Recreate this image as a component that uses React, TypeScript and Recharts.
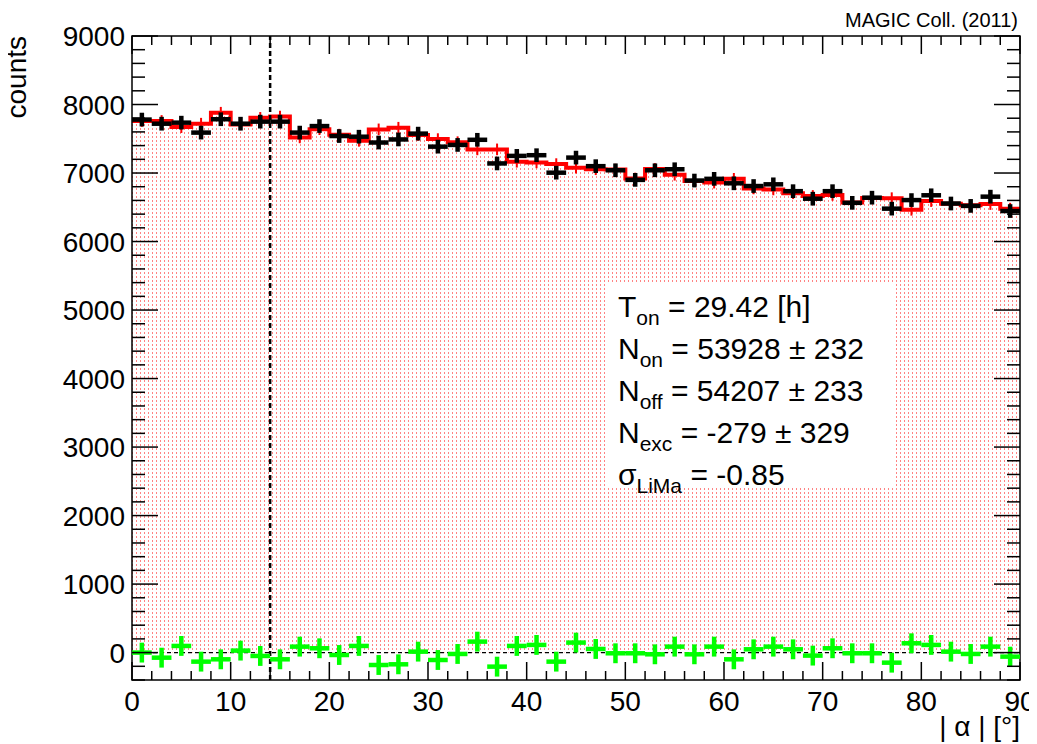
import React from 'react';
import {
  ComposedChart,
  Area,
  Scatter,
  ErrorBar,
  XAxis,
  YAxis,
  ReferenceLine,
  ReferenceArea,
} from 'recharts';

// |alpha| histogram, 45 bins of 2 deg from 0 to 90
const BIN_WIDTH = 2;
const X_MIN = 0;
const X_MAX = 90;
const Y_MIN = -400;
const Y_MAX = 9000;
const ALPHA_CUT = 14;

// ON events per bin (black crosses)
const ON_COUNTS = [
  7780, 7720, 7735, 7590, 7785, 7720, 7750, 7750, 7590, 7685,
  7540, 7530, 7445, 7490, 7575, 7385, 7410, 7485, 7140, 7250,
  7260, 7005, 7225, 7100, 7040, 6900, 7040, 7055, 6890, 6915,
  6850, 6810, 6835, 6735, 6625, 6735, 6565, 6640, 6480, 6605,
  6675, 6555, 6520, 6655, 6445,
];

// OFF events per bin (red histogram)
const OFF_COUNTS = [
  7760, 7760, 7670, 7720, 7880, 7710, 7805, 7825, 7520, 7640,
  7560, 7470, 7637, 7661, 7555, 7495, 7450, 7345, 7345, 7165,
  7155, 7130, 7078, 7055, 7050, 6920, 7058, 6975, 6885, 6860,
  6915, 6775, 6760, 6705, 6665, 6680, 6570, 6635, 6633, 6463,
  6590, 6553, 6528, 6547, 6480,
];

// ON - OFF per bin (green crosses)
const EXCESS = [
  0, -74, 97, -132, -98, 29, -49, -98, 87, 63,
  -35, 97, -181, -171, 14, -108, -20, 160, -205, 97,
  112, -132, 146, 53, -10, -10, -25, 87, -25, 87,
  -98, 48, 87, 48, -44, 63, -10, -10, -147, 136,
  112, 14, -20, 87, -59,
];

// half sizes of the error bars as drawn
const ON_ERR = 100;
const OFF_ERR = 85;
const EXCESS_ERR = 145;

const X_MAJOR = [0, 10, 20, 30, 40, 50, 60, 70, 80, 90];
const Y_MAJOR = [0, 1000, 2000, 3000, 4000, 5000, 6000, 7000, 8000, 9000];
const X_TICKS = Array.from({ length: 46 }, (_, i) => i * 2);
const Y_TICKS = Array.from({ length: 48 }, (_, i) => Y_MIN + i * 200);

// layout
const W = 1029;
const H = 736;
const PLOT_LEFT = 124;
const PLOT_RIGHT = 1012;
const PLOT_TOP = 28;
const PLOT_BOTTOM = 672;
const FONT = '"Liberation Sans", Arial, Helvetica, sans-serif';

const center = (i: number) => i * BIN_WIDTH + BIN_WIDTH / 2;

const onData = ON_COUNTS.map((v, i) => ({ x: center(i), y: v, ex: BIN_WIDTH / 2, ey: ON_ERR }));
const offErrData = OFF_COUNTS.map((v, i) => ({ x: center(i), y: v, ey: OFF_ERR }));
const offStep = [
  ...OFF_COUNTS.map((v, i) => ({ x: i * BIN_WIDTH, y: v })),
  { x: X_MAX, y: OFF_COUNTS[OFF_COUNTS.length - 1] },
];
const excessData = EXCESS.map((v, i) => ({ x: center(i), y: v, ex: BIN_WIDTH / 2, ey: EXCESS_ERR }));

const XTick = (props: any) => {
  const { x, payload } = props;
  const v = payload.value;
  const major = X_MAJOR.includes(v);
  const len = major ? 18 : 9;
  return (
    <g>
      <line x1={x} x2={x} y1={PLOT_BOTTOM} y2={PLOT_BOTTOM - len} stroke="#000" strokeWidth={1.5} />
      <line x1={x} x2={x} y1={PLOT_TOP} y2={PLOT_TOP + len} stroke="#000" strokeWidth={1.5} />
      {major && (
        <text x={x} y={PLOT_BOTTOM + 31} textAnchor="middle" fontSize={28} fontFamily={FONT} fill="#000">
          {v}
        </text>
      )}
    </g>
  );
};

const YTick = (props: any) => {
  const { y, payload } = props;
  const v = payload.value;
  const major = Y_MAJOR.includes(v);
  const len = major ? 26 : 13;
  return (
    <g>
      <line x1={PLOT_LEFT} x2={PLOT_LEFT + len} y1={y} y2={y} stroke="#000" strokeWidth={1.5} />
      <line x1={PLOT_RIGHT} x2={PLOT_RIGHT - len} y1={y} y2={y} stroke="#000" strokeWidth={1.5} />
      {major && (
        <text x={PLOT_LEFT - 7} y={y + 10} textAnchor="end" fontSize={28} fontFamily={FONT} fill="#000">
          {v}
        </text>
      )}
    </g>
  );
};

const noMarker = () => <g />;

const subStyle: React.CSSProperties = { fontSize: 21, position: 'relative', top: 8 };

export default function App() {
  return (
    <div style={{ position: 'relative', width: W, height: H, fontFamily: FONT, color: '#000' }}>
      <ComposedChart width={W} height={H} margin={{ top: PLOT_TOP, right: W - PLOT_RIGHT, bottom: 14, left: 14 }}>
        <defs>
          <pattern id="offDots" width={4} height={4} patternUnits="userSpaceOnUse">
            <rect x={0} y={0} width={1} height={2} fill="#ff3030" fillOpacity={0.6} />
          </pattern>
        </defs>
        <XAxis
          dataKey="x"
          type="number"
          domain={[X_MIN, X_MAX]}
          ticks={X_TICKS}
          interval={0}
          allowDataOverflow
          height={50}
          axisLine={false}
          tickLine={false}
          tick={XTick}
        />
        <YAxis
          type="number"
          domain={[Y_MIN, Y_MAX]}
          ticks={Y_TICKS}
          interval={0}
          allowDataOverflow
          width={110}
          axisLine={false}
          tickLine={false}
          tick={YTick}
        />
        <Area
          data={offStep}
          dataKey="y"
          type="stepAfter"
          baseValue={0}
          stroke="#ff0000"
          strokeWidth={4}
          fill="url(#offDots)"
          fillOpacity={1}
          dot={false}
          activeDot={false}
          isAnimationActive={false}
        />
        <ReferenceLine y={0} stroke="#000" strokeWidth={1.2} strokeDasharray="4 3" />
        <ReferenceLine x={ALPHA_CUT} stroke="#000" strokeWidth={2.5} strokeDasharray="5 3" />
        <Scatter data={offErrData} dataKey="y" shape={noMarker} isAnimationActive={false}>
          <ErrorBar dataKey="ey" direction="y" width={0} stroke="#ff0000" strokeWidth={2} />
        </Scatter>
        <Scatter data={onData} dataKey="y" shape={noMarker} isAnimationActive={false}>
          <ErrorBar dataKey="ex" direction="x" width={0} stroke="#000" strokeWidth={4.5} />
          <ErrorBar dataKey="ey" direction="y" width={0} stroke="#000" strokeWidth={4.5} />
        </Scatter>
        <Scatter data={excessData} dataKey="y" shape={noMarker} isAnimationActive={false}>
          <ErrorBar dataKey="ex" direction="x" width={0} stroke="#00ff00" strokeWidth={4.5} />
          <ErrorBar dataKey="ey" direction="y" width={0} stroke="#00ff00" strokeWidth={4.5} />
        </Scatter>
        <ReferenceArea
          x1={X_MIN}
          x2={X_MAX}
          y1={Y_MIN}
          y2={Y_MAX}
          fill="none"
          stroke="#000"
          strokeWidth={1.5}
          ifOverflow="visible"
        />
      </ComposedChart>

      <div
        style={{
          position: 'absolute',
          right: W - 1010,
          top: 2,
          fontSize: 20,
          lineHeight: '20px',
          whiteSpace: 'nowrap',
        }}
      >
        MAGIC Coll. (2011)
      </div>

      <div
        style={{
          position: 'absolute',
          left: -5,
          top: 228,
          width: 200,
          textAlign: 'right',
          fontSize: 28,
          lineHeight: '28px',
          transform: 'rotate(-90deg)',
          transformOrigin: 'left top',
          whiteSpace: 'nowrap',
        }}
      >
        counts
      </div>

      <div
        style={{
          position: 'absolute',
          right: W - PLOT_RIGHT,
          top: 714,
          fontSize: 28,
          lineHeight: '10px',
          whiteSpace: 'nowrap',
        }}
      >
        | α | [°]
      </div>

      <div
        style={{
          position: 'absolute',
          left: 598,
          top: 276,
          width: 289,
          height: 204,
          background: '#fff',
          boxSizing: 'border-box',
          paddingTop: 3,
          paddingLeft: 12,
          fontSize: 30,
          lineHeight: '39px',
          whiteSpace: 'nowrap',
        }}
      >
        <div>
          T<span style={subStyle}>on</span> = 29.42 [h]
        </div>
        <div>
          N<span style={subStyle}>on</span> = 53928 ± 232
        </div>
        <div>
          N<span style={subStyle}>off</span> = 54207 ± 233
        </div>
        <div>
          N<span style={subStyle}>exc</span> = -279 ± 329
        </div>
        <div>
          σ<span style={subStyle}>LiMa</span> = -0.85
        </div>
      </div>
    </div>
  );
}
